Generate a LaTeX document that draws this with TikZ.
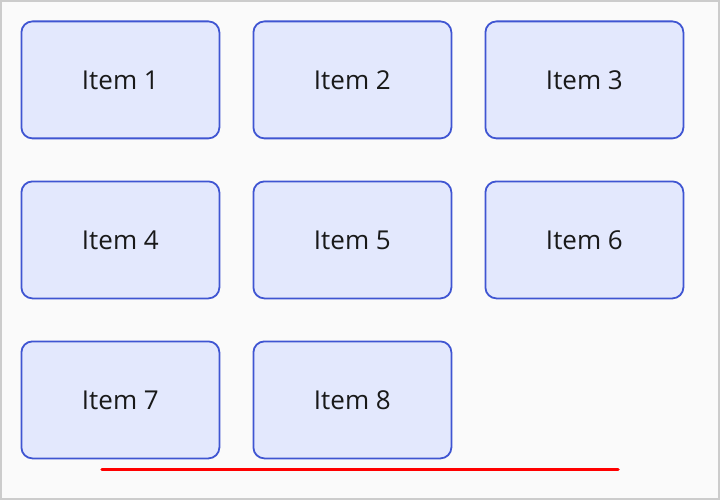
\documentclass[tikz,border=0pt]{standalone}
\usepackage{fontspec}
\setmainfont{Open Sans}
\definecolor{pagebg}{HTML}{FAFAFA}
\definecolor{frame}{HTML}{CCCCCC}
\definecolor{boxfill}{HTML}{E3E8FD}
\definecolor{boxline}{HTML}{3F55D2}
\definecolor{rule}{HTML}{FF0000}
\begin{document}
\begin{tikzpicture}[x=1pt,y=-1pt,
  itembox/.style={draw=boxline, fill=boxfill, line width=1.8pt, rounded corners=11pt,
    minimum width=198pt, minimum height=117pt, inner sep=0pt, anchor=north west,
    text height=19pt, text depth=0pt,
    font=\fontsize{26}{30}\selectfont, text=black!90},
  baseline rule/.style={draw=rule, line width=3.5pt, line cap=round}]
  % page background and frame
  \fill[pagebg] (0,0) rectangle (720,500);
  \draw[frame, line width=2pt] (1,1) rectangle (719,499);
  \useasboundingbox (0,0) rectangle (720,500);
  % grid of items
  \node[itembox] (i1) at (20.5,20.5)  {Item 1};
  \node[itembox] (i2) at (252.5,20.5) {Item 2};
  \node[itembox] (i3) at (484.5,20.5) {Item 3};
  \node[itembox] (i4) at (20.5,180.5)  {Item 4};
  \node[itembox] (i5) at (252.5,180.5) {Item 5};
  \node[itembox] (i6) at (484.5,180.5) {Item 6};
  \node[itembox] (i7) at (20.5,340.5)  {Item 7};
  \node[itembox] (i8) at (252.5,340.5) {Item 8};
  % underline beneath the last row
  \coordinate (ruleL) at (102,469.5);
  \coordinate (ruleR) at (618,469.5);
  \draw[baseline rule] (ruleL) -- (ruleR);
\end{tikzpicture}
\end{document}
